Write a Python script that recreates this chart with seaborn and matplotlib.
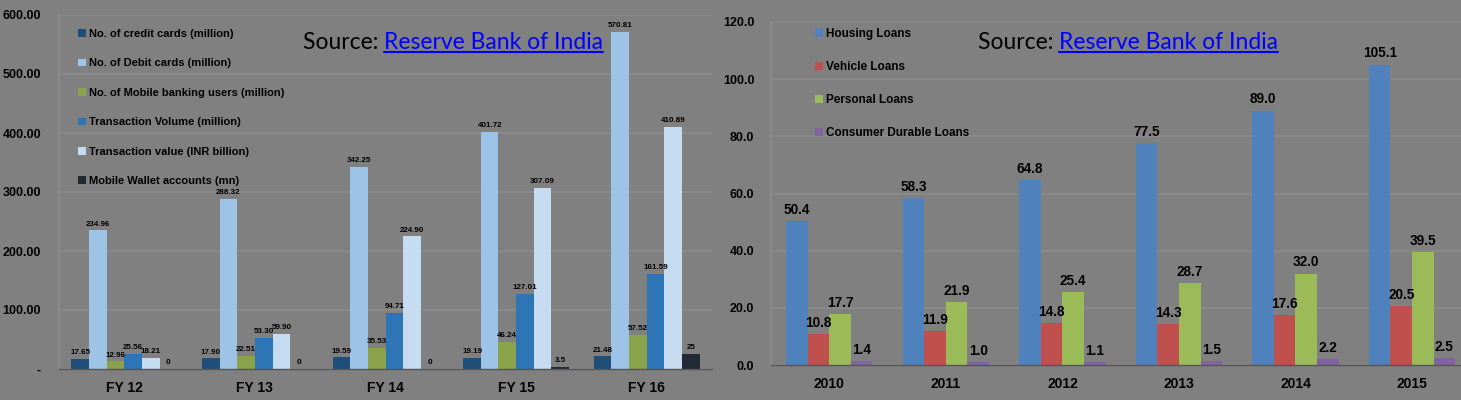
import matplotlib
matplotlib.use("Agg")
import matplotlib.pyplot as plt
import seaborn as sns
import pandas as pd
import numpy as np
from matplotlib.lines import Line2D

# ---- data: left panel (digital payments) ----
fy = ["FY 12", "FY 13", "FY 14", "FY 15", "FY 16"]
credit_cards = [17.65, 17.90, 19.59, 19.19, 21.48]
debit_cards = [234.96, 288.32, 342.25, 401.72, 570.81]
mobile_users = [12.96, 22.51, 35.53, 46.24, 57.52]
txn_volume = [25.56, 53.30, 94.71, 127.01, 161.59]
txn_value = [18.21, 59.9, 224.90, 307.09, 410.89]
wallet_accounts = [0, 0, 0, 3.5, 25]
left_series = ["No. of credit cards (million)", "No. of Debit cards (million)",
               "No. of Mobile banking users (million)", "Transaction Volume (million)",
               "Transaction value (INR billion)", "Mobile Wallet accounts (mn)"]
left_yticks = [0, 100, 200, 300, 400, 500, 600]

# ---- data: right panel (retail loans) ----
years = ["2010", "2011", "2012", "2013", "2014", "2015"]
housing = [50.4, 58.3, 64.8, 77.5, 89.0, 105.1]
vehicle = [10.8, 11.9, 14.8, 14.3, 17.6, 20.5]
personal = [17.7, 21.9, 25.4, 28.7, 32.0, 39.5]
consumer = [1.4, 1.0, 1.1, 1.5, 2.2, 2.5]
right_series = ["Housing Loans", "Vehicle Loans", "Personal Loans", "Consumer Durable Loans"]
right_yticks = [0, 20, 40, 60, 80, 100, 120]

left_colors = ["#1f4e79", "#9dc3e6", "#8aa34a", "#2e75b6", "#c5dcf0", "#222a35"]
right_colors = ["#4f81bd", "#c0504d", "#9bbb59", "#8064a2"]

bg = "#808080"
grid_c = "#8c8c8c"

sns.set_theme(style="white")
plt.rcParams["font.family"] = ["Liberation Sans", "DejaVu Sans"]
plt.rcParams["font.weight"] = "bold"
plt.rcParams["text.color"] = "black"

left_df = pd.DataFrame({
    "year": np.repeat(fy, len(left_series)),
    "series": left_series * len(fy),
    "value": np.array([credit_cards, debit_cards, mobile_users, txn_volume,
                       txn_value, wallet_accounts]).T.ravel(),
})
right_df = pd.DataFrame({
    "year": np.repeat(years, len(right_series)),
    "series": right_series * len(years),
    "value": np.array([housing, vehicle, personal, consumer]).T.ravel(),
})

fig = plt.figure(figsize=(14.61, 4.0), dpi=100, facecolor=bg)
ax1 = fig.add_axes([59 / 1461, 31 / 400, 653 / 1461, 354 / 400])
ax2 = fig.add_axes([771 / 1461, 35 / 400, 690 / 1461, 343 / 400])


def style_axis(ax):
    ax.set_facecolor(bg)
    ax.grid(axis="y", color=grid_c, lw=1.2)
    ax.set_axisbelow(True)
    for s in ["top", "right"]:
        ax.spines[s].set_visible(False)
    ax.spines["left"].set_color(grid_c)
    ax.spines["bottom"].set_color("#555555")
    ax.spines["bottom"].set_linewidth(1)
    ax.set_xlabel("")
    ax.set_ylabel("")
    ax.tick_params(axis="both", length=0, colors="black")


def short(v):
    return f"{v:.2f}".rstrip("0").rstrip(".")


# ---- left chart ----
sns.barplot(data=left_df, x="year", y="value", hue="series", hue_order=left_series,
            palette=left_colors, saturation=1, width=0.81, ax=ax1, linewidth=0)
style_axis(ax1)
ax1.set_ylim(0, 600)
ax1.set_xlim(-0.5, 4.5)
ax1.set_yticks(left_yticks)
ax1.set_yticklabels(["-"] + [f"{t:.2f}" for t in left_yticks[1:]], fontsize=9, fontweight="bold")
ax1.tick_params(axis="y", pad=13)
ax1.tick_params(axis="x", pad=9, labelsize=10)
for i, c in enumerate(ax1.containers):
    if i == len(ax1.containers) - 1:
        labs = [short(b.get_height()) for b in c]
    else:
        labs = [f"{b.get_height():.2f}" for b in c]
    ax1.bar_label(c, labels=labs, fontsize=5.8, fontweight="bold", padding=2,
                  color="black")
h, l = ax1.get_legend_handles_labels()
leg1 = ax1.legend(h, l, loc="upper left", bbox_to_anchor=(68 / 1461, 1 - 19 / 400),
                  bbox_transform=fig.transFigure, frameon=False,
                  handlelength=0.7, handleheight=0.7, handletextpad=0.3, labelspacing=1.75,
                  prop={"weight": "bold", "size": 8})
for t in leg1.get_texts():
    t.set_color("black")

# ---- right chart ----
sns.barplot(data=right_df, x="year", y="value", hue="series", hue_order=right_series,
            palette=right_colors, saturation=1, width=0.74, ax=ax2, linewidth=0)
style_axis(ax2)
ax2.set_ylim(0, 120)
ax2.set_xlim(-0.5, 5.42)
ax2.set_yticks(right_yticks)
ax2.set_yticklabels([f"{t:.1f}" for t in right_yticks], fontsize=9, fontweight="bold")
ax2.tick_params(axis="y", pad=12)
ax2.tick_params(axis="x", pad=9, labelsize=10)
for c in ax2.containers:
    ax2.bar_label(c, fmt="%.1f", fontsize=9.8, fontweight="bold", padding=3, color="black")
h, l = ax2.get_legend_handles_labels()
leg2 = ax2.legend(h, l, loc="upper left", bbox_to_anchor=(804 / 1461, 1 - 17 / 400),
                  bbox_transform=fig.transFigure, frameon=False,
                  handlelength=0.7, handleheight=0.7, handletextpad=0.3, labelspacing=1.8,
                  prop={"weight": "bold", "size": 8.5})
for t in leg2.get_texts():
    t.set_color("black")


# ---- "Source" captions with underlined link text ----
def source(x_px, y_px):
    t1 = fig.text(x_px / 1461, 1 - y_px / 400, "Source: ", fontsize=16.5, fontweight="normal",
                  family=["Lato", "DejaVu Sans"], color="black", va="baseline", ha="left")
    fig.canvas.draw()
    bb = t1.get_window_extent()
    t2 = fig.text(bb.x1 / 1461, 1 - y_px / 400, "Reserve Bank of India", fontsize=16.5,
                  family=["Lato", "DejaVu Sans"], fontweight="normal", color="#0000ff",
                  va="baseline", ha="left")
    fig.canvas.draw()
    b2 = t2.get_window_extent()
    yy = (400 - y_px - 3) / 400
    fig.add_artist(Line2D([b2.x0 / 1461, b2.x1 / 1461], [yy, yy], color="#0000ff", lw=1.5,
                          transform=fig.transFigure))


source(303, 49)
source(978, 49)

fig.savefig("out.png", dpi=100, facecolor=bg)
